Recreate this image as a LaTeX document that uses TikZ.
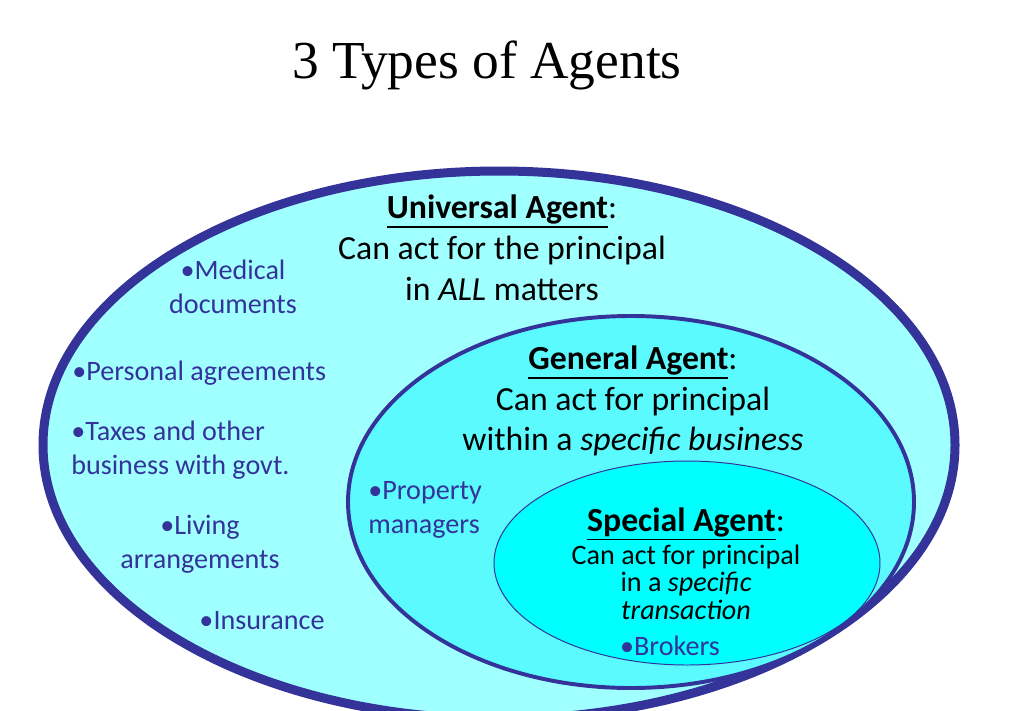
\documentclass[tikz,border=0pt]{standalone}
\usepackage{fontspec}
\setmainfont{Carlito}
\newfontfamily\titlefont{Liberation Serif}
\usepackage{tikz}
\definecolor{agentNavy}{RGB}{51,51,153}
\definecolor{agentPale}{RGB}{160,255,255}
\definecolor{agentMid}{RGB}{90,250,255}
\definecolor{agentCyan}{RGB}{0,255,255}
\newsavebox{\agentbox}
\newcommand{\agenthead}[1]{\sbox{\agentbox}{\textbf{#1}}\rlap{\rule[-6.6pt]{\wd\agentbox}{1.4pt}}\usebox{\agentbox}:}

\begin{document}
\begin{tikzpicture}[x=0.025cm,y=-0.025cm,
    bigtext/.style={font=\fontsize{24}{29}\selectfont, align=center, inner sep=0pt},
    smalltext/.style={font=\fontsize{20}{19.5}\selectfont, align=center, inner sep=0pt},
    bullettext/.style={text=agentNavy, font=\fontsize{20}{24}\selectfont, inner sep=0pt}]
    \useasboundingbox (0,0) rectangle (1024,710);
    \node[font=\titlefont\fontsize{38}{44}\selectfont] (title) at (487,65) {3 Types of Agents};

    % nested ellipses
    \draw[agentNavy, fill=agentPale, line width=6.4pt] (499,445) ellipse [x radius=456, y radius=274];
    \draw[agentNavy, fill=agentMid, line width=2.8pt] (631,502) ellipse [x radius=283, y radius=186];
    \draw[agentNavy, fill=agentCyan, line width=0.7pt] (687,563) ellipse [x radius=193, y radius=102];

    % definitions
    \node[bigtext] (universal) at (502,248) {\agenthead{Universal Agent}\\Can act for the principal\\in \textit{ALL} matters};
    \node[bigtext] (general) at (633,401) {\agenthead{General Agent}\\Can act for principal\\within a \textit{specific business}};
    \node[bigtext] (specialhead) at (686,524) {\agenthead{Special Agent}};
    \node[smalltext] (specialbody) at (686,582) {Can act for principal\\in a \textit{specific}\\\textit{transaction}};

    % examples
    \node[bullettext, align=center] (medical) at (233,287) {\textbullet Medical\\documents};
    \node[bullettext, anchor=west] (personal) at (72,373) {\textbullet Personal agreements};
    \node[bullettext, align=left, anchor=west] (taxes) at (71,450) {\textbullet Taxes and other\\business with govt.};
    \node[bullettext, align=center] (living) at (200,544) {\textbullet Living\\arrangements};
    \node[bullettext] (insurance) at (262,621) {\textbullet Insurance};
    \node[bullettext, align=left, anchor=west] (property) at (368,510) {\textbullet Property\\managers};
    \node[bullettext] (brokers) at (670,646) {\textbullet Brokers};
\end{tikzpicture}
\end{document}
